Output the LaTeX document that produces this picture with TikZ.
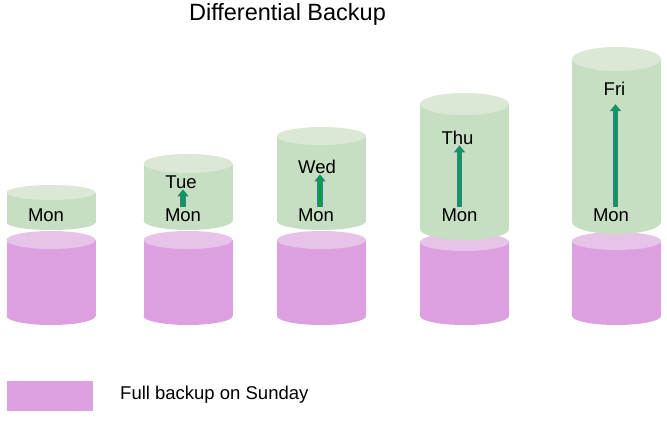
\documentclass[tikz,border=0pt]{standalone}
\usepackage{fontspec}
\setmainfont{Liberation Sans}
\usetikzlibrary{arrows.meta}
\definecolor{fullbody}{RGB}{220,159,224}
\definecolor{fulltop}{RGB}{231,195,233}
\definecolor{diffbody}{RGB}{198,222,193}
\definecolor{difftop}{RGB}{218,232,213}
\definecolor{arrowfill}{RGB}{0,160,80}
\definecolor{arrowedge}{RGB}{79,111,159}
% drum: x, top centre, bottom centre, y radius, body colour, top colour
\newcommand{\drum}[6]{%
  \fill[#5] (#1-44.5,#2) rectangle (#1+44.5,#3);
  \fill[#5] (#1,#3) ellipse [x radius=44.5, y radius=#4];
  \fill[#6] (#1,#2) ellipse [x radius=44.5, y radius=#4];
}
\tikzset{
  day/.style={anchor=base, inner sep=1pt, font=\fontsize{18.5}{20}\selectfont},
  dayedge/.style={draw=arrowedge, line width=5.4pt, -{Triangle[length=7pt,width=11pt]}},
  dayfill/.style={draw=arrowfill, line width=3.8pt, -{Triangle[length=5.4pt,width=8.6pt]}, shorten >=0.9pt}
}
\begin{document}
\begin{tikzpicture}[x=1pt,y=-1pt]
\useasboundingbox (0,0) rectangle (667,423);
\node[anchor=base, inner sep=0pt, font=\fontsize{23.5}{26}\selectfont] (title) at (287.5,20) {Differential Backup};
% full backups
\drum{51}{240}{316}{9}{fullbody}{fulltop}
\drum{188}{240}{316}{9}{fullbody}{fulltop}
\drum{321.5}{240}{316}{9}{fullbody}{fulltop}
\drum{464.5}{242}{316}{9}{fullbody}{fulltop}
\drum{616.5}{241}{316}{9}{fullbody}{fulltop}
% differential backups
\drum{51}{192.5}{222.5}{7.5}{diffbody}{difftop}
\drum{188}{163.5}{220.5}{9.5}{diffbody}{difftop}
\drum{321.5}{136}{221}{9}{diffbody}{difftop}
\drum{464.5}{104}{229}{11}{diffbody}{difftop}
\drum{616.5}{59}{222}{12}{diffbody}{difftop}
\node[day] (monA) at (46,221) {Mon};
\node[day] (monB) at (183,221) {Mon};
\node[day] (monC) at (316,221) {Mon};
\node[day] (monD) at (459.5,221) {Mon};
\node[day] (monE) at (611,221) {Mon};
\node[day] (tue) at (181,188) {Tue};
\node[day] (wed) at (317,173) {Wed};
\node[day] (thu) at (457.5,144) {Thu};
\node[day] (fri) at (614.5,95) {Fri};
\draw[dayedge] (monB.north) -- (monB.north |- tue.south);
\draw[dayfill] (monB.north) -- (monB.north |- tue.south);
\draw[dayedge] ([xshift=4pt]monC.north) -- ([xshift=4pt]monC.north |- wed.south);
\draw[dayfill] ([xshift=4pt]monC.north) -- ([xshift=4pt]monC.north |- wed.south);
\draw[dayedge] (monD.north) -- (monD.north |- thu.south);
\draw[dayfill] (monD.north) -- (monD.north |- thu.south);
\draw[dayedge, shorten >=8pt] ([xshift=4.5pt]monE.north) -- ([xshift=4.5pt]monE.north |- fri.south);
\draw[dayfill, shorten >=8.9pt] ([xshift=4.5pt]monE.north) -- ([xshift=4.5pt]monE.north |- fri.south);
% legend
\node[fill=fullbody, minimum width=86pt, minimum height=30pt, inner sep=0pt] (key) at (50,396) {};
\node[anchor=base west, inner sep=0pt, font=\fontsize{18.5}{20}\selectfont] (keytext) at (120,399) {Full backup on Sunday};
\end{tikzpicture}
\end{document}
